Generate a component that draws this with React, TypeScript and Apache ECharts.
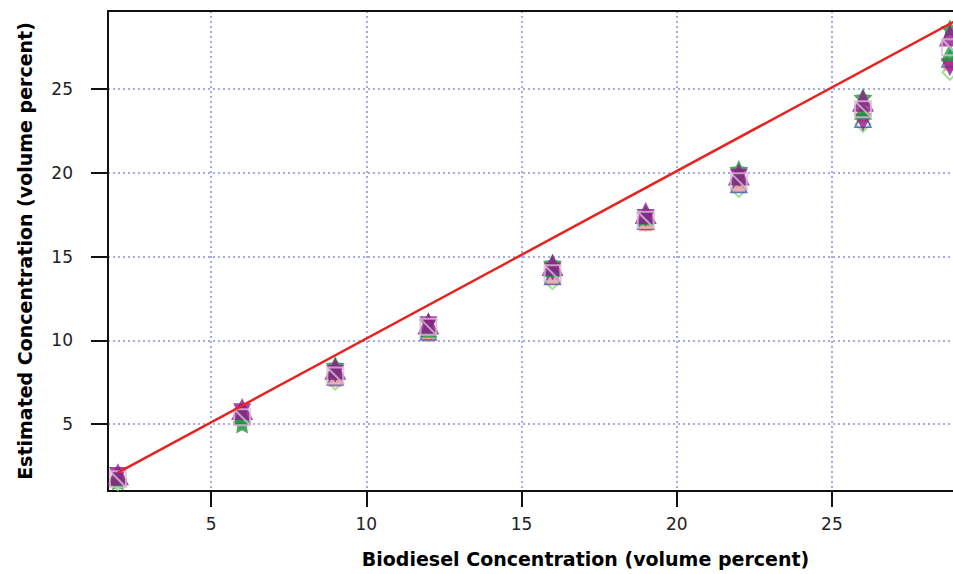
import React, { useEffect, useRef } from "react";
import * as echarts from "echarts";

const concentrations = [2, 6, 9, 12, 16, 19, 22, 26, 28.8];
const xTicks = [5, 10, 15, 20, 25];
const yTicks = [5, 10, 15, 20, 25];

const purpleTriUp = [2.0, 5.9, 8.3, 11.0, 14.5, 17.6, 19.9, 24.3, 28.2];
const greenTri = [1.9, 5.6, 8.2, 10.7, 14.3, 17.4, 19.8, 23.7, 27.2];
const pinkSquare = [1.7, 5.4, 7.9, 10.8, 14.0, 17.2, 19.5, 23.8, 27.5];
const greenStar = [1.6, 5.0, 8.5, 11.1, 14.6, 17.5, 20.2, 24.5, 28.6];
const lightDiamond = [1.5, 5.2, 7.5, 10.4, 13.5, 17.0, 19.0, 22.9, 26.0];
const blueTri = [1.8, 5.5, 7.8, 10.5, 13.8, 17.1, 19.3, 23.2, 26.8];
const salmonRect = [1.6, 5.3, 7.6, 10.3, 13.7, 16.9, 19.2, 23.4, 26.5];
const purpleTriDown = [1.9, 5.7, 8.0, 10.9, 14.1, 17.3, 19.7, 23.0, 26.3];

const idealX = [2, 29];
const idealY = [2.1, 29.1];

const xMin = 1.68;
const xMax = 28.9;
const yMin = 1.0;
const yMax = 29.66;

const pair = (ys: number[]) => concentrations.map((x, i) => [x, ys[i]]);

export default function App() {
  const ref = useRef<HTMLDivElement>(null);
  useEffect(() => {
    if (!ref.current) return;
    const chart = echarts.init(ref.current, undefined, { renderer: "svg" });
    const font = "DejaVu Sans";
    const gridLine = { show: true, lineStyle: { color: "#8c90da", type: [2, 3] as any, width: 1.5 } };
    const scatter = (name: string, ys: number[], symbol: string, size: number, style: any, z = 2) => ({
      name,
      type: "scatter",
      data: pair(ys),
      symbol,
      symbolSize: size,
      itemStyle: style,
      z,
    });
    chart.setOption({
      animation: false,
      backgroundColor: "#ffffff",
      grid: { left: 108, right: 0, top: 11, bottom: 83 },
      xAxis: [
        {
          type: "value",
          min: xMin,
          max: xMax,
          name: "Biodiesel Concentration (volume percent)",
          nameLocation: "middle",
          nameGap: 58,
          nameTextStyle: { fontFamily: font, fontWeight: "bold", fontSize: 19, color: "#000", padding: [0, 0, 0, 110] },
          axisLine: { show: true, onZero: false, lineStyle: { color: "#111", width: 2 } },
          axisTick: { show: true, length: 16, customValues: xTicks, lineStyle: { color: "#111", width: 2 } },
          axisLabel: { customValues: xTicks, margin: 24, fontFamily: font, fontSize: 17, color: "#222" },
          splitLine: gridLine,
        },
        {
          type: "value",
          position: "top",
          min: xMin,
          max: xMax,
          axisLine: { show: true, onZero: false, lineStyle: { color: "#111", width: 2 } },
          axisTick: { show: false },
          axisLabel: { show: false },
          splitLine: { show: false },
        },
      ],
      yAxis: {
        type: "value",
        min: yMin,
        max: yMax,
        name: "Estimated Concentration (volume percent)",
        nameLocation: "middle",
        nameGap: 74,
        nameTextStyle: { fontFamily: font, fontWeight: "bold", fontSize: 19, color: "#000" },
        axisLine: { show: true, onZero: false, lineStyle: { color: "#111", width: 2 } },
        axisTick: { show: true, length: 17, customValues: yTicks, lineStyle: { color: "#111", width: 2 } },
        axisLabel: { customValues: yTicks, margin: 35, fontFamily: font, fontSize: 17, color: "#222" },
        splitLine: gridLine,
      },
      series: [
        scatter("lightDiamond", lightDiamond, "diamond", 15, { color: "rgba(255,255,255,0)", borderColor: "#86dc86", borderWidth: 2 }),
        scatter("salmonRect", salmonRect, "rect", 13, { color: "#f28a80" }),
        scatter("blueTri", blueTri, "triangle", 16, { color: "rgba(255,255,255,0)", borderColor: "#3c57b4", borderWidth: 1.5 }),
        scatter("greenStar", greenStar, "path://M0,-10 L2.9,-4 9.5,-3.1 4.8,1.5 5.9,8.1 0,5 -5.9,8.1 -4.8,1.5 -9.5,-3.1 -2.9,-4Z", 19, { color: "#23903a" }),
        scatter("purpleTriDown", purpleTriDown, "path://M-10,-8 L10,-8 L0,10 Z", 18, { color: "#911a8f" }),
        scatter("greenTri", greenTri, "triangle", 18, { color: "#16a03a" }),
        scatter("purpleTriUp", purpleTriUp, "triangle", 22, { color: "#911a8f" }),
        scatter("pinkSquare", pinkSquare, "path://M0,0 L10,0 L10,10 L0,10 Z M0,0 L10,10", 16, { color: "rgba(255,255,255,0)", borderColor: "#dcbad5", borderWidth: 2 }),
        {
          name: "ideal",
          type: "line",
          data: idealX.map((x, i) => [x, idealY[i]]),
          symbol: "none",
          lineStyle: { color: "#e8231f", width: 2.5 },
          z: 5,
          clip: true,
        },
      ],
    });
    return () => chart.dispose();
  }, []);
  return (
    <div
      ref={ref}
      style={{ position: "absolute", left: 0, top: 0, width: 953, height: 574, background: "#fff" }}
    />
  );
}
